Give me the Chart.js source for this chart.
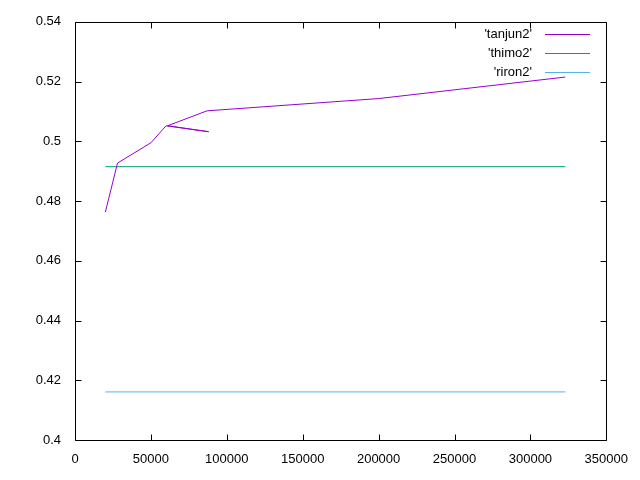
<!DOCTYPE html>
<html>
<head>
<meta charset="utf-8">
<script src="https://cdn.jsdelivr.net/npm/chart.js@4/dist/chart.umd.min.js"></script>
<style>
  body { margin: 0; background: #fff; }
  canvas { display: block; }
</style>
</head>
<body>
<canvas id="chart" width="640" height="480"></canvas>
<script>
// data
const tanjunX = [20000, 28000, 50000, 60000, 88000, 61000, 87000, 200000, 323000];
const tanjunY = [0.4763, 0.4927, 0.4995, 0.5052, 0.5032, 0.5052, 0.5102, 0.5143, 0.5215];
const thimoX = [20000, 323000];
const thimoY = [0.4915, 0.4915];
const rironX = [20000, 323000];
const rironY = [0.4161, 0.4161];

const seriesNames = ["'tanjun2'", "'thimo2'", "'riron2'"];
const seriesColors = ['#9400D3', '#009E73', '#56B4E9'];

const xTicks = [0, 50000, 100000, 150000, 200000, 250000, 300000, 350000];
const yTicks = [0.4, 0.42, 0.44, 0.46, 0.48, 0.5, 0.52, 0.54];

const FONT = '"Liberation Sans", Arial, sans-serif';

function pts(xs, ys) {
    return xs.map((x, i) => ({ x: x, y: ys[i] }));
}

// gnuplot style: border box, ticks pointing inward on all four sides
const frame = {
    id: 'frame',
    afterDraw(chart) {
        const c = chart.ctx, a = chart.chartArea;
        const L = Math.round(a.left) + 0.5, R = Math.round(a.right) + 0.5;
        const T = Math.round(a.top) + 0.5, B = Math.round(a.bottom) + 0.5;
        c.save();
        c.strokeStyle = '#000';
        c.lineWidth = 1;
        c.beginPath();
        c.rect(L, T, R - L, B - T);
        chart.scales.x.ticks.forEach(t => {
            const px = Math.round(chart.scales.x.getPixelForValue(t.value)) + 0.5;
            c.moveTo(px, B); c.lineTo(px, B - 6);
            c.moveTo(px, T); c.lineTo(px, T + 6);
        });
        chart.scales.y.ticks.forEach(t => {
            const py = Math.round(chart.scales.y.getPixelForValue(t.value)) + 0.5;
            c.moveTo(L, py); c.lineTo(L + 6, py);
            c.moveTo(R, py); c.lineTo(R - 6, py);
        });
        c.stroke();

        // key, top right, text right-aligned before the sample line
        c.font = '13px ' + FONT;
        c.textAlign = 'right';
        c.textBaseline = 'middle';
        chart.data.datasets.forEach((ds, i) => {
            const y = 34 + i * 19;
            c.fillStyle = '#000';
            c.fillText(ds.label, 532, y);
            c.strokeStyle = ds.borderColor;
            c.beginPath();
            c.moveTo(545, y + 0.5);
            c.lineTo(590, y + 0.5);
            c.stroke();
        });
        c.restore();
    }
};

const ctx = document.getElementById('chart').getContext('2d');
const chart = new Chart(ctx, {
    type: 'line',
    data: {
        datasets: [
            { label: seriesNames[0], data: pts(tanjunX, tanjunY) },
            { label: seriesNames[1], data: pts(thimoX, thimoY) },
            { label: seriesNames[2], data: pts(rironX, rironY) }
        ].map((d, i) => Object.assign(d, {
            borderColor: seriesColors[i],
            backgroundColor: seriesColors[i],
            borderWidth: 1,
            pointRadius: 0,
            tension: 0,
            fill: false
        }))
    },
    options: {
        responsive: false,
        animation: false,
        layout: { padding: { top: 20, right: 32, left: 0, bottom: 0 } },
        plugins: {
            legend: { display: false },
            tooltip: { enabled: false }
        },
        scales: {
            x: {
                type: 'linear',
                min: 0,
                max: 350000,
                grid: { display: false, drawTicks: false },
                border: { display: false },
                afterBuildTicks: s => { s.ticks = xTicks.map(v => ({ value: v })); },
                afterFit: s => { s.height = 40; },
                ticks: {
                    color: '#000',
                    padding: 12,
                    maxRotation: 0,
                    font: { family: FONT, size: 13 },
                    callback: v => String(v)
                }
            },
            y: {
                min: 0.4,
                max: 0.54,
                grid: { display: false, drawTicks: false },
                border: { display: false },
                afterBuildTicks: s => { s.ticks = yTicks.map(v => ({ value: v })); },
                afterFit: s => { s.width = 75; },
                ticks: {
                    color: '#000',
                    padding: 14,
                    font: { family: FONT, size: 13 },
                    callback: v => String(Number(v.toFixed(2)))
                }
            }
        }
    },
    plugins: [frame]
});
// nudge the right edge of the plot area to match the reference
chart.options.layout.padding.right = 30;
chart.update();
</script>
</body>
</html>
